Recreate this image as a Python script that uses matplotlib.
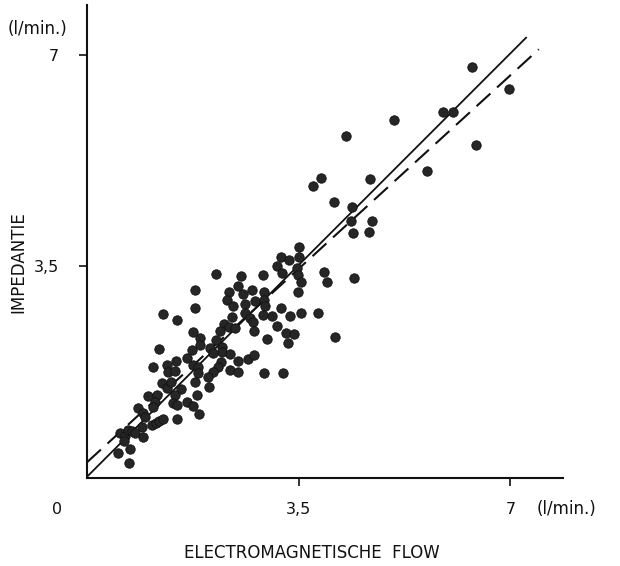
import matplotlib
matplotlib.use("Agg")
import matplotlib.pyplot as plt
import numpy as np

plt.rcParams['font.family'] = ['DejaVu Sans']

# Scatter data (l/min): electromagnetic flow (x) vs impedance (y)
flow_em = [6.36, 6.98, 6.43, 5.88, 6.05, 5.07, 4.28, 5.62, 4.68, 4.08,
           4.38, 4.36, 4.71, 4.40, 4.66, 4.41, 4.10, 3.74, 3.87, 3.50,
           3.21, 3.34, 3.50, 3.14, 3.22, 3.47, 3.49, 3.54, 3.92, 3.97,
           2.13, 2.55, 2.91, 2.50, 2.58, 2.73, 2.93, 3.49, 2.35, 2.31,
           2.41, 2.61, 2.78, 2.93, 2.94, 3.21, 2.61, 2.69, 2.74, 2.91,
           3.06, 3.36, 3.54, 3.82, 2.40, 2.26, 2.35, 2.45, 2.20, 3.14,
           2.76, 3.29, 3.42, 2.98, 3.32, 2.13, 2.23, 2.23, 2.36, 2.50,
           2.66, 2.76, 2.21, 2.17, 2.36, 2.50, 2.93, 3.24, 1.87, 1.79,
           1.79, 1.26, 1.49, 1.75, 1.87, 1.19, 1.74, 2.03, 2.08, 1.47,
           1.65, 1.32, 1.34, 1.45, 1.09, 1.75, 1.83, 2.08, 2.00, 1.83,
           1.79, 1.24, 1.32, 1.39, 1.55, 1.01, 1.16, 1.12, 1.09, 1.45,
           1.42, 1.49, 1.82, 2.02, 1.65, 1.75, 0.84, 0.93, 0.96, 1.07,
           1.14, 1.19, 1.26, 1.49, 1.85, 0.91, 0.55, 0.63, 0.68, 0.74,
           0.79, 0.93, 0.61, 0.71, 0.51, 0.69]
impedance = [6.79, 6.43, 5.50, 6.05, 6.05, 5.92, 5.65, 5.07, 4.94, 4.56,
             4.48, 4.25, 4.25, 4.05, 4.07, 3.31, 2.33, 4.83, 4.96, 3.82,
             3.65, 3.60, 3.65, 3.50, 3.39, 3.47, 3.36, 3.24, 3.40, 3.24,
             3.37, 3.34, 3.36, 3.17, 3.04, 3.11, 3.07, 3.07, 3.07, 2.94,
             2.84, 2.88, 2.93, 2.94, 2.84, 2.81, 2.73, 2.64, 2.58, 2.69,
             2.68, 2.68, 2.73, 2.73, 2.66, 2.55, 2.50, 2.48, 2.43, 2.51,
             2.43, 2.40, 2.38, 2.30, 2.23, 2.28, 2.17, 2.08, 2.05, 1.93,
             1.97, 2.03, 1.92, 1.83, 1.79, 1.75, 1.74, 1.74, 2.31, 3.11,
             2.81, 2.71, 2.61, 2.41, 2.20, 2.13, 2.12, 2.15, 2.07, 1.93,
             1.98, 1.87, 1.75, 1.77, 1.83, 1.87, 1.83, 1.75, 1.67, 1.74,
             1.59, 1.57, 1.49, 1.59, 1.47, 1.36, 1.37, 1.26, 1.17, 1.37,
             1.24, 1.21, 1.37, 1.50, 1.26, 1.19, 1.16, 1.07, 1.01, 0.88,
             0.91, 0.94, 0.98, 0.98, 1.06, 0.84, 0.74, 0.69, 0.79, 0.78,
             0.74, 0.68, 0.61, 0.48, 0.41, 0.25]

# Regression lines: (x start, x end, intercept, slope)
solid_fit = (0.0, 7.27, 0.02, 1.0)
dashed_fit = (0.0, 7.47, 0.26, 0.914)

x_ticks = [3.5, 7]
x_tick_labels = ['3,5', '7']
y_ticks = [3.5, 7]
y_tick_labels = ['3,5', '7']

W, H = 620, 566
fig = plt.figure(figsize=(W / 100, H / 100), dpi=100)
ax = fig.add_axes([87 / W, (H - 478) / H, 476 / W, 473 / H])
ax.set_xlim(0, 7.87)
ax.set_ylim(0, 7.82)

ax.scatter(flow_em, impedance, s=46, c='#262626', edgecolors='#111111',
           linewidths=0.6, zorder=3)

xs = np.array(solid_fit[:2])
ax.plot(xs, solid_fit[2] + solid_fit[3] * xs, color='#111111', lw=1.3,
        solid_capstyle='butt', zorder=2)
xd = np.array(dashed_fit[:2])
ln, = ax.plot(xd, dashed_fit[2] + dashed_fit[3] * xd, color='#111111',
              lw=1.5, zorder=2)
ln.set_dashes([13.5 / 1.5, 6.5 / 1.5])

for side in ['top', 'right']:
    ax.spines[side].set_visible(False)
for side in ['left', 'bottom']:
    ax.spines[side].set_linewidth(1.5)
    ax.spines[side].set_color('#111111')

tick_font = dict(fontsize=11.5)
ax.set_xticks(x_ticks)
ax.set_xticklabels(x_tick_labels, **tick_font)
ax.set_yticks(y_ticks)
ax.set_yticklabels(y_tick_labels, **tick_font)
ax.tick_params(axis='both', direction='out', length=6, width=1.2,
               color='#111111', labelcolor='#111111')
ax.tick_params(axis='x', pad=11)
ax.tick_params(axis='y', pad=14)

def fx(px):
    return px / W

def fy(py):
    return 1 - py / H

fig.text(fx(57), fy(509), '0', fontsize=11.5, ha='center', va='center',
         color='#111111')
fig.text(fx(537), fy(509), '(l/min.)', fontsize=12, ha='left', va='center',
         color='#111111')
fig.text(fx(8), fy(29), '(l/min.)', fontsize=12, ha='left', va='center',
         color='#111111')
fig.text(fx(312), fy(553), 'ELECTROMAGNETISCHE  FLOW', fontsize=12,
         ha='center', va='center', color='#111111')
fig.text(fx(18), fy(262), 'IMPEDANTIE', fontsize=12, rotation=90,
         ha='center', va='center', color='#111111')

fig.savefig('out.png', dpi=100, facecolor='white')
